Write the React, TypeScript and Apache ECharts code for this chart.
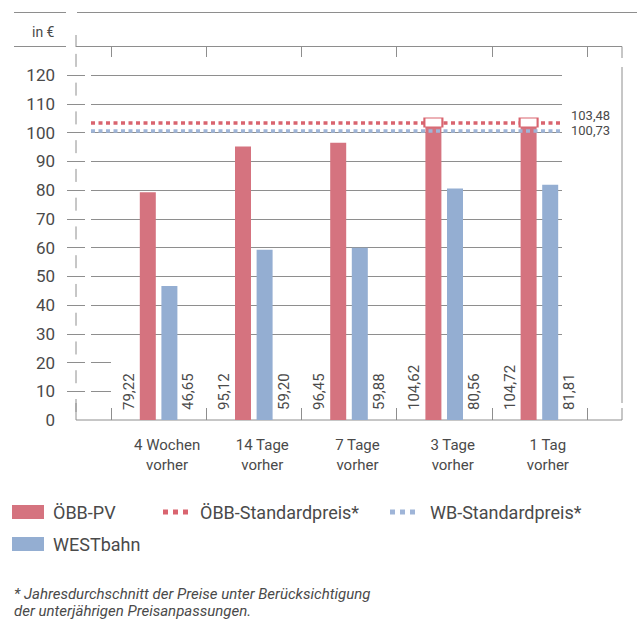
import React, { useEffect, useRef } from 'react';
import * as echarts from 'echarts';

const categories = ['4 Wochen\nvorher', '14 Tage\nvorher', '7 Tage\nvorher', '3 Tage\nvorher', '1 Tag\nvorher'];
const obbPV = [79.22, 95.12, 96.45, 104.62, 104.72];
const westbahn = [46.65, 59.2, 59.88, 80.56, 81.81];
const obbStandard = 103.48;
const wbStandard = 100.73;
const tickValues = [10, 20, 30, 40, 50, 60, 70, 80, 90, 100, 110, 120];
const gridValues = [30, 40, 50, 60, 70, 80, 90, 100, 110, 120];
const stubValues = [10, 20];
const footnote = ['* Jahresdurchschnitt der Preise unter Berücksichtigung', 'der unterjährigen Preisanpassungen.'];

const RED = '#d5737f';
const BLUE = '#94aed2';
const RED_DOT = '#d9646f';
const BLUE_DOT = '#9fb5d8';
const GRAY = '#8e8e8e';
const TEXT = '#4a4a4a';
const FONT = 'Roboto, sans-serif';
const fmt = (v: number) => v.toFixed(2).replace('.', ',');
const DOTS = 'path://M0,0h5v5h-5zM10,0h5v5h-5zM20,0h5v5h-5z';

function frameLine(x1: number, y1: number, x2: number, y2: number, dash?: number[]) {
  return {
    type: 'line',
    silent: true,
    shape: { x1, y1, x2, y2 },
    style: { stroke: GRAY, lineWidth: 1, lineDash: dash },
  };
}

export default function App() {
  const ref = useRef<HTMLDivElement>(null);
  useEffect(() => {
    if (!ref.current) return;
    const chart = echarts.init(ref.current, undefined, { renderer: 'svg' });
    const legendText = { color: TEXT, fontSize: 18, fontFamily: FONT };
    const option: any = {
      animation: false,
      grid: { left: 111, right: 50, top: 75, bottom: 212 },
      legend: [
        {
          left: 12, top: 503, padding: 0, selectedMode: false, itemWidth: 32, itemHeight: 14,
          textStyle: { ...legendText, padding: [0, 0, 0, 4] },
          data: [{ name: 'ÖBB-PV', icon: 'rect', itemStyle: { color: RED } }],
        },
        {
          left: 12, top: 535, padding: 0, selectedMode: false, itemWidth: 32, itemHeight: 14,
          textStyle: { ...legendText, padding: [0, 0, 0, 4] },
          data: [{ name: 'WESTbahn', icon: 'rect', itemStyle: { color: BLUE } }],
        },
        {
          left: 163, top: 503, padding: 0, selectedMode: false, itemWidth: 25, itemHeight: 5,
          textStyle: { ...legendText, padding: [0, 0, 0, 7] },
          data: [{ name: 'ÖBB-Standardpreis*', icon: DOTS, itemStyle: { color: RED_DOT } }],
        },
        {
          left: 390, top: 503, padding: 0, selectedMode: false, itemWidth: 25, itemHeight: 5,
          textStyle: { ...legendText, padding: [0, 0, 0, 10] },
          data: [{ name: 'WB-Standardpreis*', icon: DOTS, itemStyle: { color: BLUE_DOT } }],
        },
      ],
      xAxis: [
        {
          type: 'category',
          data: categories,
          position: 'bottom',
          axisLine: { show: false },
          axisTick: { show: true, inside: true, length: 12, lineStyle: { color: GRAY, width: 1 } },
          axisLabel: {
            color: TEXT, fontSize: 15, fontFamily: FONT, lineHeight: 20, margin: 15,
            padding: [0, 0, 0, 17],
          },
          splitLine: { show: false },
        },
        {
          type: 'category',
          data: categories,
          position: 'top',
          offset: 28.5,
          axisLine: { show: false },
          axisTick: { show: true, inside: true, length: 10.5, lineStyle: { color: GRAY, width: 1 } },
          axisLabel: { show: false },
          splitLine: { show: false },
        },
      ],
      yAxis: {
        type: 'value',
        min: 0,
        max: 120,
        interval: 10,
        axisLine: { show: false },
        axisTick: { show: false },
        splitLine: { show: false },
        axisLabel: { color: TEXT, fontSize: 17, fontFamily: FONT, margin: 56 },
      },
      series: [
        {
          type: 'line',
          name: 'frame',
          data: [],
          silent: true,
          z: 1,
          markLine: {
            silent: true,
            symbol: 'none',
            z: 1,
            label: { show: false },
            lineStyle: { color: GRAY, width: 1, type: 'solid' },
            emphasis: { disabled: true },
            data: [
              ...tickValues.map((v) => [{ x: 67, yAxis: v }, { x: 85, yAxis: v }]),
              ...gridValues.map((v) => [{ x: 91, yAxis: v }, { x: 562, yAxis: v }]),
              ...stubValues.map((v) => [{ x: 91, yAxis: v }, { x: 111, yAxis: v }]),
            ],
          },
        },
        {
          type: 'bar',
          name: 'ÖBB-PV',
          data: obbPV,
          barWidth: 16,
          barGap: '35%',
          z: 2,
          itemStyle: { color: RED },
          label: {
            show: true, position: 'insideBottom', distance: 10, rotate: 90,
            align: 'left', verticalAlign: 'middle', offset: [0, -19],
            color: TEXT, fontSize: 15, fontFamily: FONT, textBorderWidth: 0,
            formatter: (p: any) => fmt(p.value),
          },
        },
        {
          type: 'bar',
          name: 'WESTbahn',
          data: westbahn,
          barWidth: 16,
          barGap: '35%',
          z: 2,
          itemStyle: { color: BLUE },
          label: {
            show: true, position: 'insideBottom', distance: 10, rotate: 90,
            align: 'left', verticalAlign: 'middle', offset: [0, 19],
            color: TEXT, fontSize: 15, fontFamily: FONT, textBorderWidth: 0,
            formatter: (p: any) => fmt(p.value),
          },
        },
        {
          type: 'line',
          name: 'WB-Standardpreis*',
          data: [],
          color: BLUE_DOT,
          z: 3,
          markLine: {
            silent: true,
            symbol: 'none',
            z: 3,
            lineStyle: { color: BLUE_DOT, width: 3.5, type: [4, 3.5] },
            label: {
              show: true, position: 'end', distance: 9, formatter: fmt(wbStandard),
              color: TEXT, fontSize: 13, fontFamily: FONT,
              verticalAlign: 'middle',
            },
            emphasis: { disabled: true },
            data: [[{ x: 91, yAxis: wbStandard }, { x: 562, yAxis: wbStandard }]],
          },
        },
        {
          type: 'line',
          name: 'ÖBB-Standardpreis*',
          data: [],
          color: RED_DOT,
          z: 3,
          markLine: {
            silent: true,
            symbol: 'none',
            z: 3,
            lineStyle: { color: RED_DOT, width: 3.5, type: [4, 3.5] },
            label: {
              show: true, position: 'end', distance: 9, formatter: fmt(obbStandard),
              color: TEXT, fontSize: 13, fontFamily: FONT,
              verticalAlign: 'bottom',
            },
            emphasis: { disabled: true },
            data: [[{ x: 91, yAxis: obbStandard }, { x: 562, yAxis: obbStandard }]],
          },
        },
        {
          type: 'scatter',
          name: 'marker',
          silent: true,
          z: 5,
          data: obbPV.map((v) => (v > obbStandard ? obbStandard : '-')),
          symbol: 'rect',
          symbolSize: [18, 9],
          symbolOffset: [-10.8, 0],
          itemStyle: { color: '#ffffff', borderColor: RED_DOT, borderWidth: 1.5, opacity: 1 },
        },
      ],
      graphic: [
        frameLine(14, 12.5, 66, 12.5),
        frameLine(77, 12.5, 637, 12.5),
        frameLine(14, 46.5, 66, 46.5),
        frameLine(76, 46.5, 622, 46.5),
        frameLine(76, 35, 76, 47),
        frameLine(76, 412, 76, 47, [13, 15.76]),
        frameLine(76, 403, 76, 420),
        frameLine(622, 46.5, 622, 58),
        frameLine(622, 67, 622, 403),
        frameLine(622, 408, 622, 420),
        frameLine(76, 420, 622, 420),
        {
          type: 'text', x: 32, y: 32, silent: true,
          style: { text: 'in €', fill: TEXT, fontSize: 14, fontFamily: FONT, verticalAlign: 'middle' },
        },
        {
          type: 'text', x: 14, y: 585, silent: true,
          style: {
            text: footnote.join('\n'), fill: TEXT, fontSize: 15, fontFamily: FONT,
            fontStyle: 'italic', lineHeight: 17, verticalAlign: 'top',
          },
        },
      ],
    };
    chart.setOption(option);
    return () => chart.dispose();
  }, []);
  return (
    <div
      ref={ref}
      style={{ position: 'fixed', left: 0, top: 0, width: 637, height: 632, background: '#fff' }}
    />
  );
}
